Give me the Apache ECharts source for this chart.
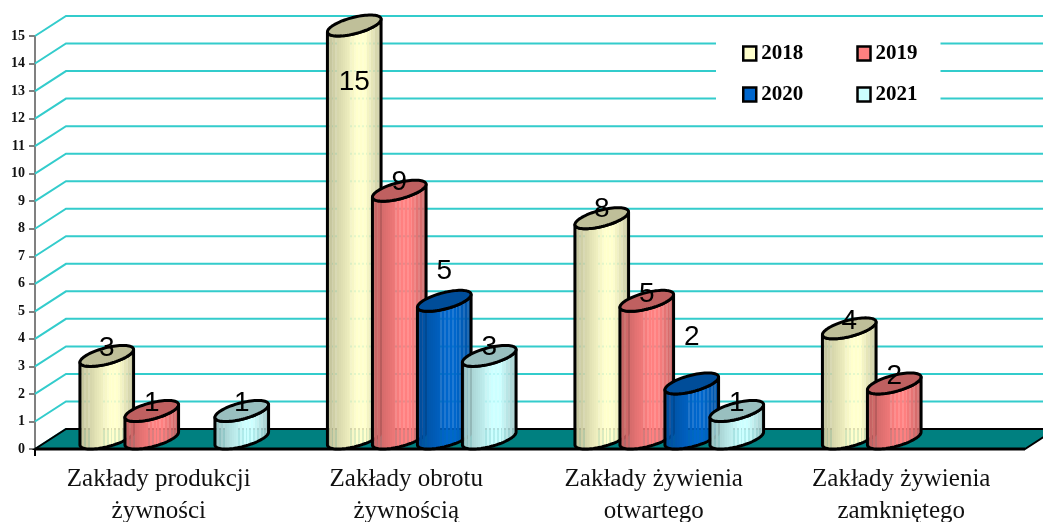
<!DOCTYPE html>
<html><head><meta charset="utf-8">
<style>html,body{margin:0;padding:0;background:#fff}#c{width:1043px;height:522px}</style>
<script src="https://cdn.jsdelivr.net/npm/echarts@6/dist/echarts.min.js"></script>
</head><body><div id="c"></div>
<script>
const categories = ['Zakłady produkcji\nżywności','Zakłady obrotu\nżywnością','Zakłady żywienia\notwartego','Zakłady żywienia\nzamkniętego'];
const yTicks = [0,1,2,3,4,5,6,7,8,9,10,11,12,13,14,15];
const years = ['2018','2019','2020','2021'];
const v2018 = [3,15,8,4];
const v2019 = [1,9,5,2];
const v2020 = [null,5,2,null];
const v2021 = [1,3,1,null];
const seriesValues = [v2018,v2019,v2020,v2021];
const colors = ['#FFFFCC','#FF8080','#0066CC','#CCFFFF'];
// label centre relative to the front level of each bar's top (px)
const labelDy = [[-18,46,-19,-18],[-18,-19,-17,-18],[0,-40,-57,0],[-18,-19,-18,0]];
const depthX = 31, depthY = 20, barShare = 45/247.5;
const capU = 21.3, capV = 16.3, capH = 10.5, capLift = 10.5;

function rgb(hex){return [1,3,5].map(i=>parseInt(hex.substr(i,2),16));}
function shade(hex,s,al){const c=rgb(hex).map(v=>Math.round(v*s));return `rgba(${c[0]},${c[1]},${c[2]},${al})`;}
function sideFill(hex){
  const N=30, stops=[];
  for(let k=0;k<N;k++){
    const t=(k+.5)/N;
    const s=t<.55?0.74+0.26*(t/.55):(t<.7?1:1-0.25*(t-.7)/.3);
    const slit=(k%2===1)&&(t<.22||t>.42);
    const col=shade(hex,s,slit?0.87:1);
    stops.push({offset:k/N,color:col},{offset:(k+1)/N,color:col});
  }
  return new echarts.graphic.LinearGradient(0,0,1,0,stops);
}
function cylinder(si){
  return function(params,api){
    const cat=api.value(0), val=api.value(1);
    const top=api.coord([cat,val]), base=api.coord([cat,0]);
    const band=api.size([1,0])[0], a=band*barShare;
    const cx=top[0]+(si-2)*a+(a+depthX)/2;
    const t0=Math.atan2(capV,capU);
    const pt=(t,yy)=>[cx+Math.cos(t)*capU+Math.sin(t)*capV, yy-capLift-Math.sin(t)*capH];
    const side=[], cap=[], n=40;
    for(let i=0;i<=n;i++) side.push(pt(t0-Math.PI+Math.PI*i/n,base[1]));
    for(let i=0;i<=n;i++) side.push(pt(t0-Math.PI*i/n,top[1]));
    for(let i=0;i<80;i++) cap.push(pt(2*Math.PI*i/80,top[1]));
    const line={stroke:'#000',lineWidth:3,lineJoin:'round'};
    return {type:'group',children:[
      {type:'polygon',shape:{points:side},style:Object.assign({fill:sideFill(colors[si])},line)},
      {type:'polygon',shape:{points:cap},style:Object.assign({fill:shade(colors[si],0.75,1)},line)},
      {type:'text',x:cx,y:top[1]+labelDy[si][cat],z2:100,style:{text:String(val),fill:'#000',fontSize:28,
        fontFamily:'"Liberation Sans",Arial,sans-serif',align:'center',verticalAlign:'middle'}}
    ]};
  };
}
const gridSeries={type:'custom',silent:true,data:yTicks.map(v=>[0,v]),encode:{x:0,y:1},
  renderItem(params,api){
    const cs=params.coordSys, y=api.coord([0,api.value(1)])[1];
    return {type:'polyline',shape:{points:[[cs.x,y],[cs.x+depthX,y-depthY],[cs.x+cs.width+depthX,y-depthY]]},
      style:{stroke:'#33CCCC',lineWidth:2,fill:null}};
  }};
const floorSeries={type:'custom',silent:true,data:[[0,0]],encode:{x:0,y:1},
  renderItem(params,api){
    const cs=params.coordSys, y=api.coord([0,0])[1];
    return {type:'group',children:[
      {type:'polygon',shape:{points:[[cs.x,y],[cs.x+depthX,y-depthY],[cs.x+cs.width+depthX,y-depthY],[cs.x+cs.width,y]]},
       style:{fill:'#008080',stroke:'#000',lineWidth:2}},
      {type:'line',shape:{x1:cs.x,y1:y,x2:cs.x+cs.width,y2:y},style:{stroke:'#000',lineWidth:3}},
      {type:'line',shape:{x1:cs.x,y1:y,x2:cs.x,y2:y+7},style:{stroke:'#000',lineWidth:2}}
    ]};
  }};
const barSeries=years.map((name,si)=>({
  type:'custom',name,silent:true,encode:{x:0,y:1},
  itemStyle:{color:colors[si],borderColor:'#000',borderWidth:2},
  data:seriesValues[si].map((v,i)=>[i,v]).filter(d=>d[1]!==null),
  renderItem:cylinder(si)
}));
const legendText={fontFamily:'"Liberation Serif","Times New Roman",serif',fontWeight:'bold',fontSize:21,color:'#000'};
const legendBase={left:716,itemGap:53,itemWidth:13,itemHeight:14,icon:'rect',
  backgroundColor:'#fff',selectedMode:false,textStyle:legendText,itemStyle:{borderColor:'#000',borderWidth:2.5}};
const chart=echarts.init(document.getElementById('c'),null,{renderer:'canvas'});
chart.setOption({
  animation:false,backgroundColor:'#fff',
  grid:{left:35,right:18,top:36,bottom:73,containLabel:false,outerBoundsMode:'none'},
  legend:[
    Object.assign({},legendBase,{data:years.slice(0,2),top:30,padding:[13,23,8,26]}),
    Object.assign({},legendBase,{data:years.slice(2),top:72,padding:[12,23,5,26]})
  ],
  xAxis:{type:'category',data:categories,
    axisLine:{show:false},
    axisTick:{show:false},
    axisLabel:{interval:0,margin:14,fontFamily:'"Liberation Serif","Times New Roman",serif',fontSize:25,lineHeight:32,color:'#111'},
    splitLine:{show:false}},
  yAxis:{type:'value',min:0,max:15,interval:1,
    axisLine:{show:true,lineStyle:{color:'#808080',width:2}},
    axisTick:{show:true,length:6,lineStyle:{color:'#808080',width:2}},
    axisLabel:{margin:10,fontFamily:'"Liberation Serif","Times New Roman",serif',fontWeight:'bold',fontSize:14,color:'#111'},
    splitLine:{show:false}},
  series:[gridSeries,floorSeries].concat(barSeries)
});
</script></body></html>
